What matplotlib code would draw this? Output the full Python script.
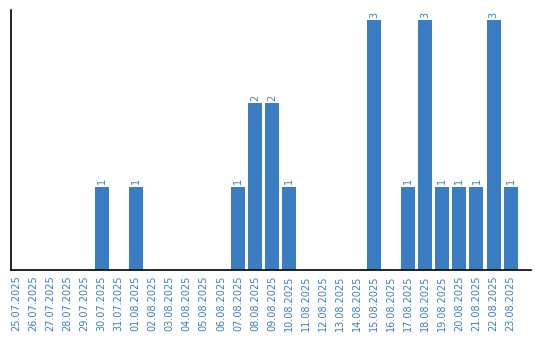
import matplotlib.pyplot as plt
import numpy as np

dates = [
    "25.07.2025", "26.07.2025", "27.07.2025", "28.07.2025", "29.07.2025",
    "30.07.2025", "31.07.2025", "01.08.2025", "02.08.2025", "03.08.2025",
    "04.08.2025", "05.08.2025", "06.08.2025", "07.08.2025", "08.08.2025",
    "09.08.2025", "10.08.2025", "11.08.2025", "12.08.2025", "13.08.2025",
    "14.08.2025", "15.08.2025", "16.08.2025", "17.08.2025", "18.08.2025",
    "19.08.2025", "20.08.2025", "21.08.2025", "22.08.2025", "23.08.2025",
]
counts = [0, 0, 0, 0, 0, 1, 0, 1, 0, 0,
          0, 0, 0, 1, 2, 2, 1, 0, 0, 0,
          0, 3, 0, 1, 3, 1, 1, 1, 3, 1]

blue = "#3b7dc2"

fig = plt.figure(figsize=(5.4, 3.4), dpi=100)
ax = fig.add_axes([11 / 540, 70 / 340, 520 / 540, 260 / 340])

x = np.arange(len(dates))
bars = ax.bar(x, counts, width=0.82, color=blue)
for xi, v in zip(x, counts):
    if v > 0:
        ax.text(xi, v + 0.03, str(v), rotation=90, ha="center", va="bottom",
                fontsize=7, color=blue)

ax.set_xlim(-0.32, 30.2)
ax.set_ylim(0, 3.12)
ax.set_xticks(x)
ax.set_xticklabels(dates, rotation=90, fontsize=7, color=blue)
ax.tick_params(axis="x", length=0, pad=4)
ax.set_yticks([])
for s in ("top", "right"):
    ax.spines[s].set_visible(False)
for s in ("left", "bottom"):
    ax.spines[s].set_linewidth(1.2)

fig.savefig("out.png", dpi=100)
